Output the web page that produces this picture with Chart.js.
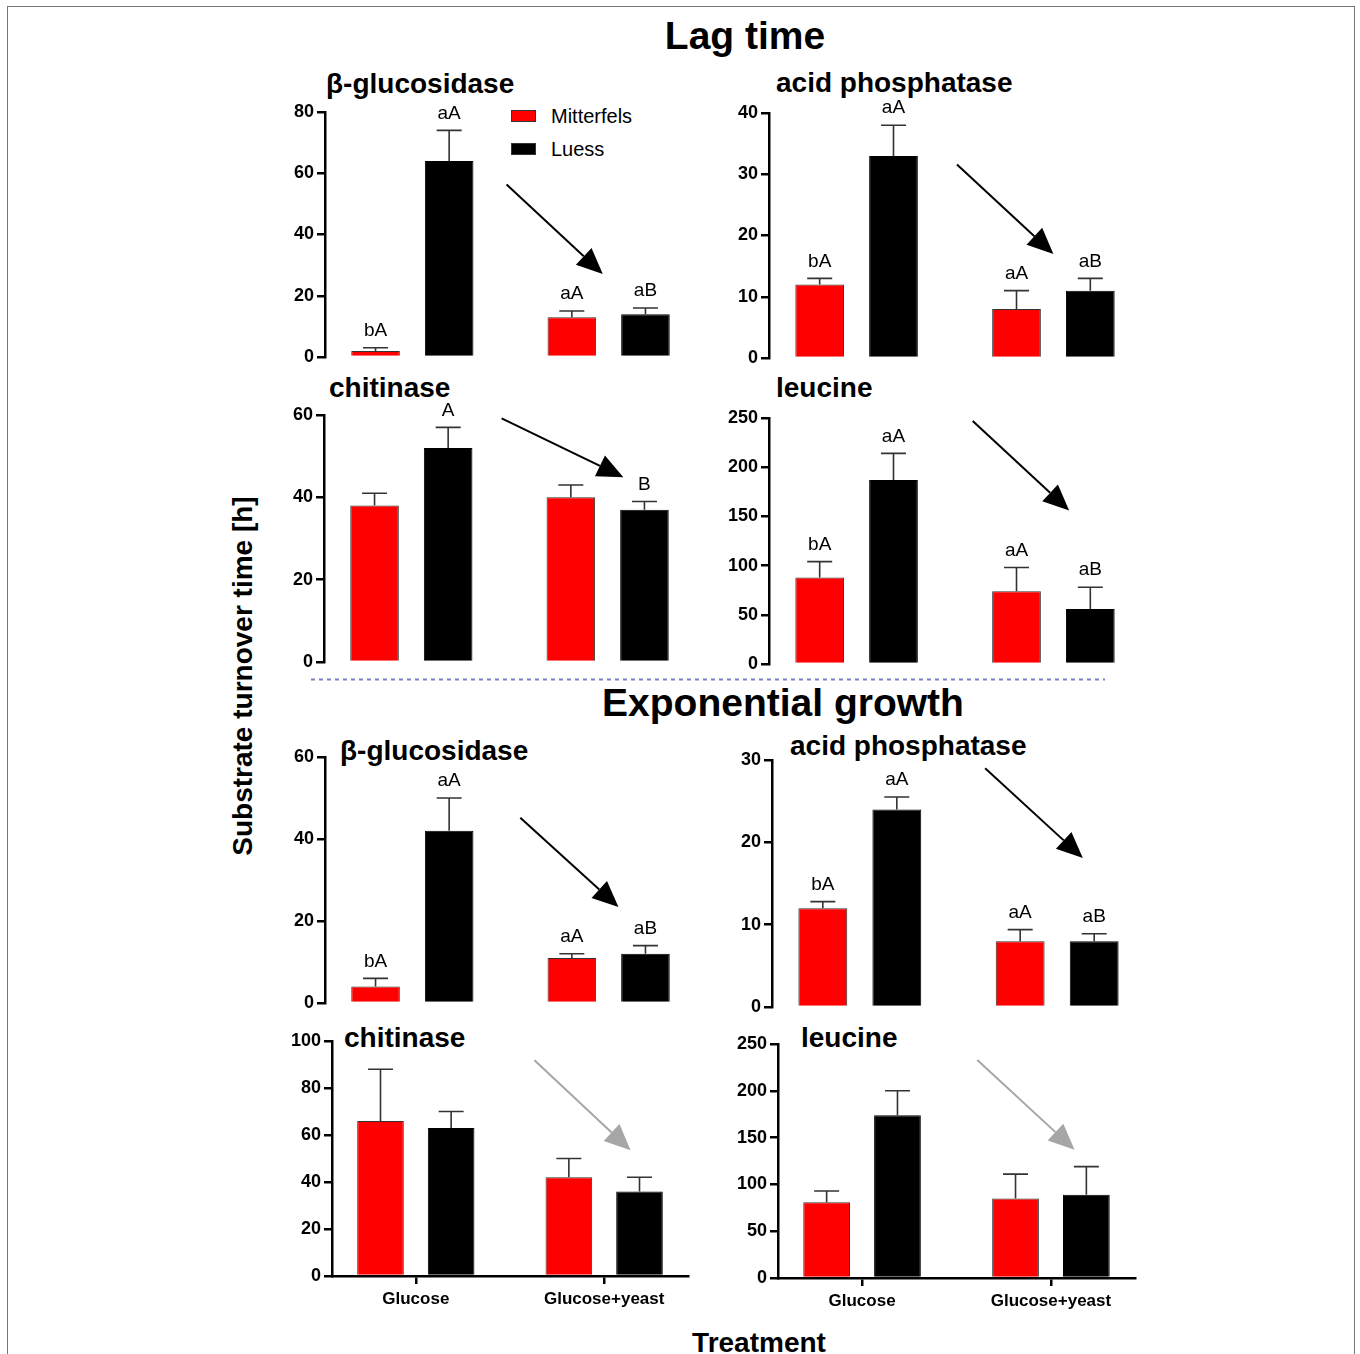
<!DOCTYPE html>
<html><head><meta charset="utf-8">
<script src="https://cdn.jsdelivr.net/npm/chart.js@4.4.1/dist/chart.umd.min.js"></script>
<style>
body{margin:0;background:#fff;width:1360px;height:1354px;overflow:hidden;position:relative;font-family:'Liberation Sans',Arial,sans-serif;}
.abs{position:absolute;white-space:nowrap;color:#000;}
.ptitle{font-size:28px;font-weight:bold;line-height:32px;}
.big{font-size:39px;font-weight:bold;line-height:44px;text-align:center;}
canvas{position:absolute;}
#frame{position:absolute;left:7px;top:6px;width:1348px;height:1400px;border:1.5px solid #777;box-sizing:border-box;}
.legbox{position:absolute;width:25px;height:12px;border:1px solid #333;box-sizing:border-box;}
.legtxt{position:absolute;font-size:20px;line-height:24px;}
</style></head><body>
<div id="frame"></div>
<div class="abs big" style="left:545px;top:14px;width:400px;">Lag time</div>
<div class="abs big" style="left:533px;top:681px;width:500px;">Exponential growth</div>
<div class="abs" style="left:559px;top:1326px;width:400px;text-align:center;font-size:28px;font-weight:bold;line-height:34px;">Treatment</div>
<div class="abs" style="left:-7px;top:659px;width:500px;text-align:center;font-size:28px;font-weight:bold;line-height:34px;transform:rotate(-90deg);">Substrate turnover time [h]</div>
<svg class="abs" style="left:0;top:0;" width="1360" height="1354"><line x1="311" y1="679.5" x2="1105" y2="679.5" stroke="#7d80c4" stroke-width="2" stroke-dasharray="4 4"/></svg>
<div id="titles"></div>
<div id="legend"></div>
<div id="charts"></div>
<script>
// ---------- categories / series ----------
const treatments = ['Glucose', 'Glucose+yeast'];
const seriesNames = ['Mitterfels', 'Luess'];
const seriesColors = ['#ff0000', '#000000'];

// ---------- Lag time ----------
const lag_bglu_mitterfels = [2, 13];
const lag_bglu_mitterfels_sd = [1, 2];
const lag_bglu_luess = [64, 14];
const lag_bglu_luess_sd = [10, 2];
const lag_bglu_letters_mitterfels = ['bA', 'aA'];
const lag_bglu_letters_luess = ['aA', 'aB'];
const lag_bglu_yticks = [0, 20, 40, 60, 80];
const lag_bglu_arrow = [0.48, 56.3, 0.97, 27.1];

const lag_acp_mitterfels = [12, 8];
const lag_acp_mitterfels_sd = [1, 3];
const lag_acp_luess = [33, 11];
const lag_acp_luess_sd = [5, 2];
const lag_acp_letters_mitterfels = ['bA', 'aA'];
const lag_acp_letters_luess = ['aA', 'aB'];
const lag_acp_yticks = [0, 10, 20, 30, 40];
const lag_acp_arrow = [0.51, 31.6, 1.0, 17.0];

const lag_chi_mitterfels = [38, 40];
const lag_chi_mitterfels_sd = [3, 3];
const lag_chi_luess = [52, 37];
const lag_chi_luess_sd = [5, 2];
const lag_chi_letters_mitterfels = ['', ''];
const lag_chi_letters_luess = ['A', 'B'];
const lag_chi_yticks = [0, 20, 40, 60];
const lag_chi_arrow = [0.46, 59.2, 1.08, 44.9];

const lag_leu_mitterfels = [88, 74];
const lag_leu_mitterfels_sd = [16, 24];
const lag_leu_luess = [187, 56];
const lag_leu_luess_sd = [27, 22];
const lag_leu_letters_mitterfels = ['bA', 'aA'];
const lag_leu_letters_luess = ['aA', 'aB'];
const lag_leu_yticks = [0, 50, 100, 150, 200, 250];
const lag_leu_arrow = [0.59, 247, 1.08, 156];

// ---------- Exponential growth ----------
const exp_bglu_mitterfels = [4, 11];
const exp_bglu_mitterfels_sd = [2, 1];
const exp_bglu_luess = [42, 12];
const exp_bglu_luess_sd = [8, 2];
const exp_bglu_letters_mitterfels = ['bA', 'aA'];
const exp_bglu_letters_luess = ['aA', 'aB'];
const exp_bglu_yticks = [0, 20, 40, 60];
const exp_bglu_arrow = [0.55, 45.2, 1.05, 23.4];

const exp_acp_mitterfels = [12, 8];
const exp_acp_mitterfels_sd = [0.8, 1.4];
const exp_acp_luess = [24, 8];
const exp_acp_luess_sd = [1.5, 0.9];
const exp_acp_letters_mitterfels = ['bA', 'aA'];
const exp_acp_letters_luess = ['aA', 'aB'];
const exp_acp_yticks = [0, 10, 20, 30];
const exp_acp_arrow = [0.635, 29.0, 1.13, 18.1];

const exp_chi_mitterfels = [66, 42];
const exp_chi_mitterfels_sd = [22, 8];
const exp_chi_luess = [63, 36];
const exp_chi_luess_sd = [7, 6];
const exp_chi_letters_mitterfels = ['', ''];
const exp_chi_letters_luess = ['', ''];
const exp_chi_yticks = [0, 20, 40, 60, 80, 100];
const exp_chi_arrow = [0.63, 91.8, 1.14, 53.5];

const exp_leu_mitterfels = [81, 85];
const exp_leu_mitterfels_sd = [12, 26];
const exp_leu_luess = [174, 89];
const exp_leu_luess_sd = [26, 30];
const exp_leu_letters_mitterfels = ['', ''];
const exp_leu_letters_luess = ['', ''];
const exp_leu_yticks = [0, 50, 100, 150, 200, 250];
const exp_leu_arrow = [0.61, 233, 1.125, 137];

// ---------- panels (data refs + layout) ----------
const FONT = '"Liberation Sans", Arial, sans-serif';
const X_MIN = -0.445, X_MAX = 1.445;
const panels = [
  {title:'β-glucosidase', m:lag_bglu_mitterfels, msd:lag_bglu_mitterfels_sd, l:lag_bglu_luess, lsd:lag_bglu_luess_sd, ml:lag_bglu_letters_mitterfels, ll:lag_bglu_letters_luess, yt:lag_bglu_yticks, arrow:lag_bglu_arrow, arrowColor:'#000',
   axLeft:324.5, top:112, bottom:356.5, spacing:196.5, xAxis:false, tLeft:326, tTop:68},
  {title:'acid phosphatase', m:lag_acp_mitterfels, msd:lag_acp_mitterfels_sd, l:lag_acp_luess, lsd:lag_acp_luess_sd, ml:lag_acp_letters_mitterfels, ll:lag_acp_letters_luess, yt:lag_acp_yticks, arrow:lag_acp_arrow, arrowColor:'#000',
   axLeft:768.5, top:112.5, bottom:357.7, spacing:197, xAxis:false, tLeft:776, tTop:66.5},
  {title:'chitinase', m:lag_chi_mitterfels, msd:lag_chi_mitterfels_sd, l:lag_chi_luess, lsd:lag_chi_luess_sd, ml:lag_chi_letters_mitterfels, ll:lag_chi_letters_luess, yt:lag_chi_yticks, arrow:lag_chi_arrow, arrowColor:'#000',
   axLeft:323.5, top:415, bottom:661.7, spacing:196.5, xAxis:false, tLeft:329, tTop:371.5},
  {title:'leucine', m:lag_leu_mitterfels, msd:lag_leu_mitterfels_sd, l:lag_leu_luess, lsd:lag_leu_luess_sd, ml:lag_leu_letters_mitterfels, ll:lag_leu_letters_luess, yt:lag_leu_yticks, arrow:lag_leu_arrow, arrowColor:'#000',
   axLeft:769, top:417.7, bottom:663.3, spacing:197, xAxis:false, tLeft:776, tTop:371.5},
  {title:'β-glucosidase', m:exp_bglu_mitterfels, msd:exp_bglu_mitterfels_sd, l:exp_bglu_luess, lsd:exp_bglu_luess_sd, ml:exp_bglu_letters_mitterfels, ll:exp_bglu_letters_luess, yt:exp_bglu_yticks, arrow:exp_bglu_arrow, arrowColor:'#000',
   axLeft:324.5, top:756.7, bottom:1002.7, spacing:196.5, xAxis:false, tLeft:340, tTop:735},
  {title:'acid phosphatase', m:exp_acp_mitterfels, msd:exp_acp_mitterfels_sd, l:exp_acp_luess, lsd:exp_acp_luess_sd, ml:exp_acp_letters_mitterfels, ll:exp_acp_letters_luess, yt:exp_acp_yticks, arrow:exp_acp_arrow, arrowColor:'#000',
   axLeft:771.7, top:760, bottom:1006.7, spacing:197.2, xAxis:false, tLeft:790, tTop:730.3},
  {title:'chitinase', m:exp_chi_mitterfels, msd:exp_chi_mitterfels_sd, l:exp_chi_luess, lsd:exp_chi_luess_sd, ml:exp_chi_letters_mitterfels, ll:exp_chi_letters_luess, yt:exp_chi_yticks, arrow:exp_chi_arrow, arrowColor:'#a6a6a6',
   axLeft:332.3, top:1040.7, bottom:1275.7, spacing:188.5, xAxis:true, tLeft:344, tTop:1022.3},
  {title:'leucine', m:exp_leu_mitterfels, msd:exp_leu_mitterfels_sd, l:exp_leu_luess, lsd:exp_leu_luess_sd, ml:exp_leu_letters_mitterfels, ll:exp_leu_letters_luess, yt:exp_leu_yticks, arrow:exp_leu_arrow, arrowColor:'#a6a6a6',
   axLeft:777.7, top:1044, bottom:1278.3, spacing:189, xAxis:true, tLeft:801, tTop:1022.3}
];

// titles
const titlesDiv = document.getElementById('titles');
panels.forEach(p => {
  const d = document.createElement('div');
  d.className = 'abs ptitle';
  d.style.left = p.tLeft + 'px'; d.style.top = p.tTop + 'px';
  d.textContent = p.title;
  titlesDiv.appendChild(d);
});
// legend
const legDiv = document.getElementById('legend');
seriesNames.forEach((n, i) => {
  const b = document.createElement('div');
  b.className = 'legbox';
  b.style.left = '511px'; b.style.top = (109.5 + i * 33) + 'px';
  b.style.background = seriesColors[i];
  legDiv.appendChild(b);
  const t = document.createElement('div');
  t.className = 'abs legtxt';
  t.style.left = '551px'; t.style.top = (104 + i * 33) + 'px';
  t.textContent = n;
  legDiv.appendChild(t);
});

const annot = {
  id: 'annot',
  afterDatasetsDraw(chart, args, opts) {
    const ctx = chart.ctx, ys = chart.scales.y, xs = chart.scales.x;
    chart.data.datasets.forEach((ds, di) => {
      const meta = chart.getDatasetMeta(di);
      meta.data.forEach((el, i) => {
        const top = ys.getPixelForValue(ds.data[i].y + ds.sd[i]);
        ctx.save();
        ctx.strokeStyle = '#333'; ctx.lineWidth = 1.6;
        ctx.beginPath();
        ctx.moveTo(el.x, el.y); ctx.lineTo(el.x, top);
        ctx.moveTo(el.x - 12.5, top); ctx.lineTo(el.x + 12.5, top);
        ctx.stroke();
        const lab = ds.letters[i];
        if (lab) {
          ctx.fillStyle = '#000';
          ctx.font = '19px ' + FONT;
          ctx.textAlign = 'center'; ctx.textBaseline = 'middle';
          ctx.fillText(lab, el.x, top - 17);
        }
        ctx.restore();
      });
    });
    const a = opts.arrow;
    if (a) {
      const x0 = xs.getPixelForValue(a[0]), y0 = ys.getPixelForValue(a[1]);
      const x1 = xs.getPixelForValue(a[2]), y1 = ys.getPixelForValue(a[3]);
      const ang = Math.atan2(y1 - y0, x1 - x0), L = 26, W = 11.5;
      const bx = x1 - L * Math.cos(ang), by = y1 - L * Math.sin(ang);
      ctx.save();
      ctx.strokeStyle = opts.color; ctx.fillStyle = opts.color; ctx.lineWidth = 2;
      ctx.beginPath(); ctx.moveTo(x0, y0); ctx.lineTo(bx, by); ctx.stroke();
      ctx.beginPath();
      ctx.moveTo(x1, y1);
      ctx.lineTo(bx + W * Math.sin(ang), by - W * Math.cos(ang));
      ctx.lineTo(bx - W * Math.sin(ang), by + W * Math.cos(ang));
      ctx.closePath(); ctx.fill();
      ctx.restore();
    }
  }
};

const chartsDiv = document.getElementById('charts');
panels.forEach(p => {
  const padT = 26, padR = 12, yW = 62, xH = p.xAxis ? 52 : 16;
  const plotW = (X_MAX - X_MIN) * p.spacing;
  const cv = document.createElement('canvas');
  cv.width = Math.round(yW + plotW + padR);
  cv.height = Math.round(padT + (p.bottom - p.top) + xH);
  cv.style.left = (p.axLeft - yW) + 'px';
  cv.style.top = (p.top - padT) + 'px';
  chartsDiv.appendChild(cv);
  const mk = (vals) => vals.map((v, i) => ({x: i, y: v}));
  new Chart(cv, {
    type: 'bar',
    data: {
      datasets: [
        {label: seriesNames[0], data: mk(p.m), sd: p.msd, letters: p.ml, backgroundColor: seriesColors[0], borderColor: '#333', borderWidth: 1},
        {label: seriesNames[1], data: mk(p.l), sd: p.lsd, letters: p.ll, backgroundColor: seriesColors[1], borderColor: '#000', borderWidth: 1}
      ]
    },
    options: {
      responsive: false, animation: false, devicePixelRatio: 1,
      categoryPercentage: 0.75, barPercentage: 0.66,
      layout: {padding: {top: padT, right: padR, left: 0, bottom: 0}},
      plugins: {legend: {display: false}, tooltip: {enabled: false}, title: {display: false},
        annot: {arrow: p.arrow, color: p.arrowColor}},
      scales: {
        x: {
          type: 'linear', min: X_MIN, max: X_MAX, offset: false,
          afterBuildTicks: s => { s.ticks = treatments.map((_, i) => ({value: i})); },
          afterFit: s => { s.height = xH; },
          border: {display: p.xAxis, color: '#000', width: 2.5},
          grid: {display: p.xAxis, drawOnChartArea: false, drawTicks: true, tickLength: 8, color: '#000', lineWidth: 2.5, offset: false},
          ticks: {display: p.xAxis, autoSkip: false, maxRotation: 0, padding: 5, color: '#000',
            font: {family: FONT, size: 17, weight: 'bold'},
            callback: v => treatments[v] !== undefined ? treatments[v] : ''}
        },
        y: {
          type: 'linear', min: p.yt[0], max: p.yt[p.yt.length - 1],
          afterBuildTicks: s => { s.ticks = p.yt.map(v => ({value: v})); },
          afterFit: s => { s.width = yW; },
          border: {display: true, color: '#000', width: 2.5},
          grid: {drawOnChartArea: false, drawTicks: true, tickLength: 8, color: '#000', lineWidth: 2.5},
          ticks: {padding: 3, color: '#000', font: {family: FONT, size: 18, weight: 'bold'}}
        }
      }
    },
    plugins: [annot]
  });
});
</script>
</body></html>
